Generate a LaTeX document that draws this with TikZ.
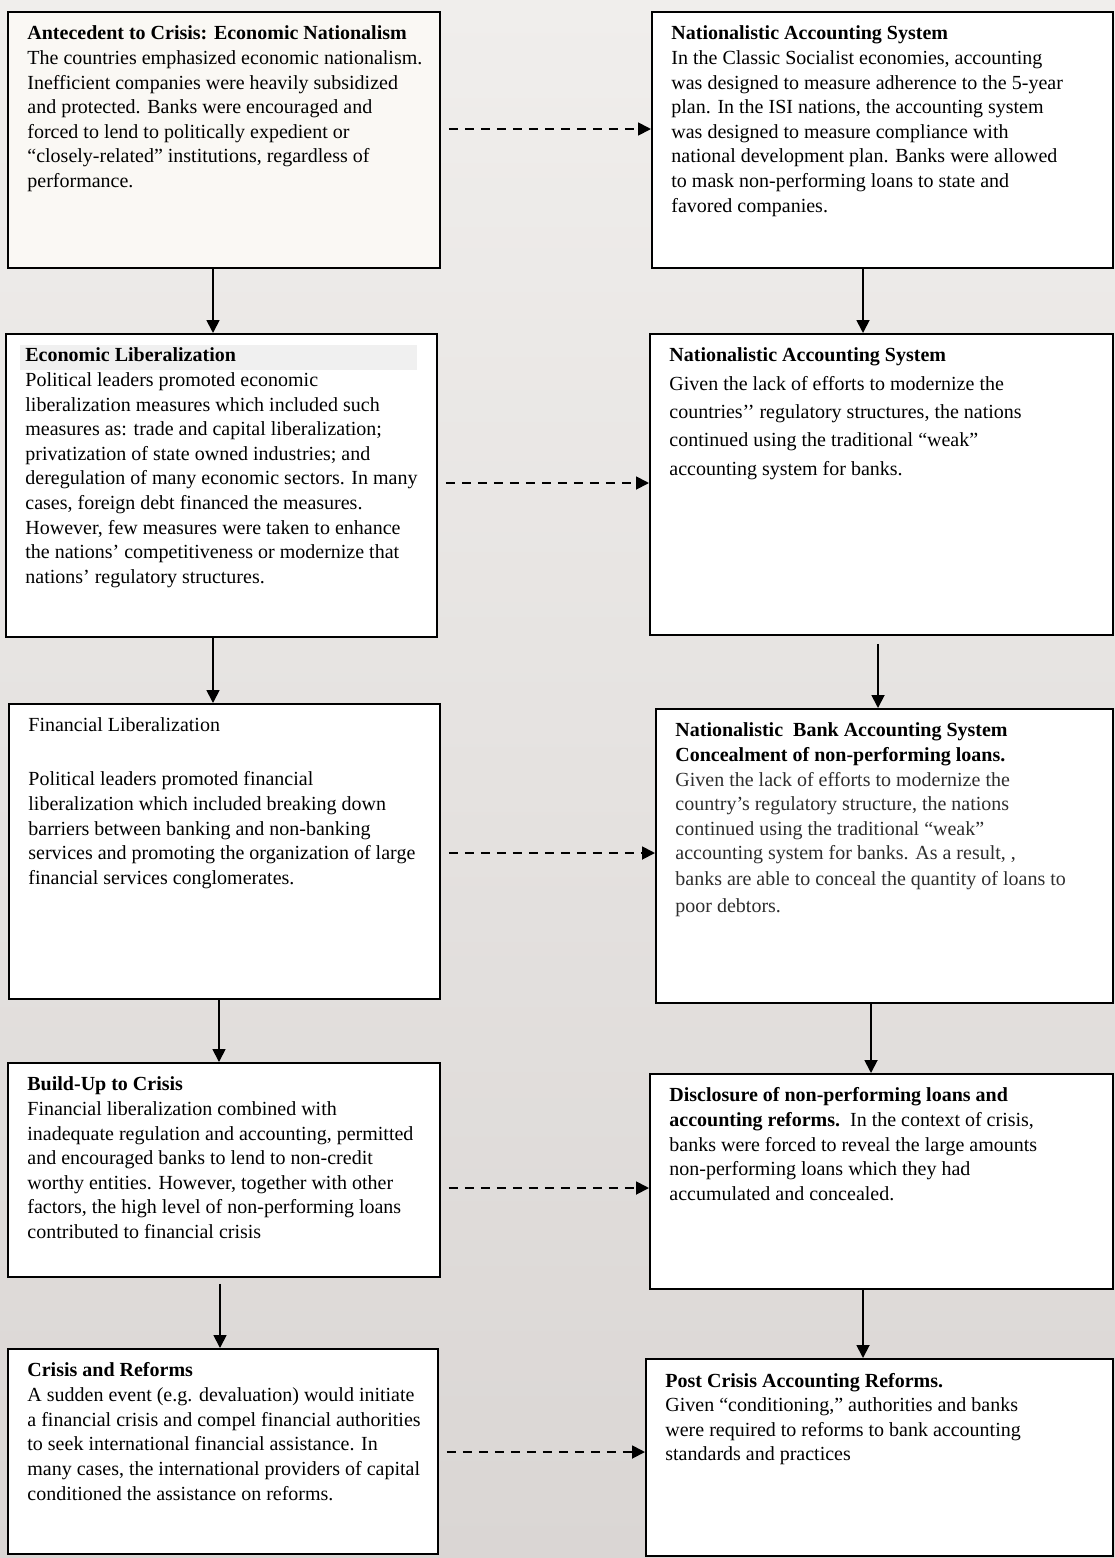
\documentclass[tikz,border=0pt]{standalone}
\usepackage{fontspec}
\setmainfont{Liberation Serif}
\usetikzlibrary{arrows.meta}
\definecolor{bgtop}{HTML}{F0EEEC}
\definecolor{bgbot}{HTML}{DAD6D4}
\definecolor{bandgray}{HTML}{F0F0F0}
\definecolor{boxAfill}{HTML}{FAF8F4}
\definecolor{fbody}{HTML}{2E2E2E}
\newcommand{\bxt}[3]{\begin{minipage}[t][#2][t]{#1}\fontsize{20}{24.6}\selectfont\parindent=0pt\parskip=0pt #3\end{minipage}}
\newcommand{\lin}[1]{\mbox{#1}\par}
\newcommand{\fst}{\rule{0pt}{14pt}}
\newcommand{\headband}{\makebox[0pt][l]{\hspace{-5.5pt}\smash{\textcolor{bandgray}{\rule[-8pt]{397.5pt}{25pt}}}}}
\tikzset{
  flowbox/.style={draw=black, line width=1.8pt, fill=white, anchor=north west, inner sep=0pt},
  solidarrow/.style={line width=1.8pt, -{Triangle[width=13pt,length=13pt]}},
  dasharrow/.style={line width=1.8pt, dash pattern=on 9pt off 7pt, -{Triangle[width=13pt,length=13pt]}, shorten <=8pt}
}
\begin{document}
\begin{tikzpicture}[x=1pt,y=-1pt]
\useasboundingbox (0,0) rectangle (1115,1558);
\shade[top color=bgtop, bottom color=bgbot] (0,0) rectangle (1115,1558);

% left column
\node[flowbox, fill=boxAfill, minimum width=432pt, minimum height=256pt] (A) at (7,11)
 {\bxt{393pt}{228pt}{%
  \lin{\fst\textbf{Antecedent to Crisis: Economic Nationalism}}
  \lin{The countries emphasized economic nationalism.}
  \lin{Inefficient companies were heavily subsidized}
  \lin{and protected. Banks were encouraged and}
  \lin{forced to lend to politically expedient or}
  \lin{“closely-related” institutions, regardless of}
  \lin{performance.}}};

\node[flowbox, minimum width=431pt, minimum height=303pt] (C) at (5,333)
 {\bxt{392pt}{275pt}{%
  \lin{\fst\headband\textbf{Economic Liberalization}}
  \lin{Political leaders promoted economic}
  \lin{liberalization measures which included such}
  \lin{measures as: trade and capital liberalization;}
  \lin{privatization of state owned industries; and}
  \lin{deregulation of many economic sectors. In many}
  \lin{cases, foreign debt financed the measures.}
  \lin{However, few measures were taken to enhance}
  \lin{the nations’ competitiveness or modernize that}
  \lin{nations’ regulatory structures.}}};

\node[flowbox, minimum width=431pt, minimum height=295pt] (E) at (8,703)
 {\bxt{392pt}{267pt}{%
  \lin{\fst Financial Liberalization}
  \vspace{29.4pt}
  \lin{Political leaders promoted financial}
  \lin{liberalization which included breaking down}
  \lin{barriers between banking and non-banking}
  \lin{services and promoting the organization of large}
  \lin{financial services conglomerates.}}};

\node[flowbox, minimum width=432pt, minimum height=214pt] (G) at (7,1062)
 {\bxt{393pt}{186pt}{%
  \lin{\fst\textbf{Build-Up to Crisis}}
  \lin{Financial liberalization combined with}
  \lin{inadequate regulation and accounting, permitted}
  \lin{and encouraged banks to lend to non-credit}
  \lin{worthy entities. However, together with other}
  \lin{factors, the high level of non-performing loans}
  \lin{contributed to financial crisis}}};

\node[flowbox, minimum width=430pt, minimum height=205pt] (I) at (7,1348)
 {\bxt{391pt}{177pt}{%
  \lin{\fst\textbf{Crisis and Reforms}}
  \lin{A sudden event (e.g. devaluation) would initiate}
  \lin{a financial crisis and compel financial authorities}
  \lin{to seek international financial assistance. In}
  \lin{many cases, the international providers of capital}
  \lin{conditioned the assistance on reforms.}}};

% right column
\node[flowbox, minimum width=461pt, minimum height=256pt] (B) at (651,11)
 {\bxt{422pt}{228pt}{%
  \lin{\fst\textbf{Nationalistic Accounting System}}
  \lin{In the Classic Socialist economies, accounting}
  \lin{was designed to measure adherence to the 5-year}
  \lin{plan. In the ISI nations, the accounting system}
  \lin{was designed to measure compliance with}
  \lin{national development plan. Banks were allowed}
  \lin{to mask non-performing loans to state and}
  \lin{favored companies.}}};

\node[flowbox, minimum width=463pt, minimum height=301pt] (D) at (649,333)
 {\bxt{424pt}{273pt}{\fontsize{20}{28.3}\selectfont
  \lin{\fst\textbf{Nationalistic Accounting System}}
  \lin{Given the lack of efforts to modernize the}
  \lin{countries’’ regulatory structures, the nations}
  \lin{continued using the traditional “weak”}
  \lin{accounting system for banks.}}};

\node[flowbox, minimum width=457pt, minimum height=294pt] (F) at (655,708)
 {\bxt{418pt}{266pt}{%
  \lin{\fst\textbf{Nationalistic\ \ Bank Accounting System}}
  \lin{\textbf{Concealment of non-performing loans.}}
  \color{fbody}%
  \lin{Given the lack of efforts to modernize the}
  \lin{country’s regulatory structure, the nations}
  \lin{continued using the traditional “weak”}
  \lin{accounting system for banks. As a result, ,}
  \vspace{1pt}
  \lin{banks are able to conceal the quantity of loans to}
  \vspace{2pt}
  \lin{poor debtors.}}};

\node[flowbox, minimum width=463pt, minimum height=215pt] (H) at (649,1073)
 {\bxt{424pt}{187pt}{%
  \lin{\fst\textbf{Disclosure of non-performing loans and}}
  \lin{\textbf{accounting reforms.}\ \ In the context of crisis,}
  \lin{banks were forced to reveal the large amounts}
  \lin{non-performing loans which they had}
  \lin{accumulated and concealed.}}};

\node[flowbox, minimum width=467pt, minimum height=197pt] (J) at (645,1358)
 {\bxt{428pt}{169pt}{%
  \lin{\fst\textbf{Post Crisis Accounting Reforms.}}
  \lin{Given “conditioning,” authorities and banks}
  \lin{were required to reforms to bank accounting}
  \lin{standards and practices}}};

% connector coordinates
\coordinate (xAC) at (213,0);
\coordinate (xCE) at (213,0);
\coordinate (xEG) at (219,0);
\coordinate (xGI) at (220,0);
\coordinate (xBD) at (863,0);
\coordinate (xDF) at (878,0);
\coordinate (xFH) at (871,0);
\coordinate (xHJ) at (863,0);
\coordinate (yAB) at (0,129);
\coordinate (yCD) at (0,483);
\coordinate (yEF) at (0,853);
\coordinate (yGH) at (0,1188);
\coordinate (yIJ) at (0,1452);

\draw[solidarrow] (A.south -| xAC) -- (C.north -| xAC);
\draw[solidarrow] (C.south -| xCE) -- (E.north -| xCE);
\draw[solidarrow] (E.south -| xEG) -- (G.north -| xEG);
\draw[solidarrow, shorten <=6pt] (G.south -| xGI) -- (I.north -| xGI);
\draw[solidarrow] (B.south -| xBD) -- (D.north -| xBD);
\draw[solidarrow, shorten <=8pt] (D.south -| xDF) -- (F.north -| xDF);
\draw[solidarrow] (F.south -| xFH) -- (H.north -| xFH);
\draw[solidarrow] (H.south -| xHJ) -- (J.north -| xHJ);

\draw[dasharrow] (A.east |- yAB) -- (B.west |- yAB);
\draw[dasharrow] (C.east |- yCD) -- (D.west |- yCD);
\draw[dasharrow] (E.east |- yEF) -- (F.west |- yEF);
\draw[dasharrow] (G.east |- yGH) -- (H.west |- yGH);
\draw[dasharrow] (I.east |- yIJ) -- (J.west |- yIJ);
\end{tikzpicture}
\end{document}
